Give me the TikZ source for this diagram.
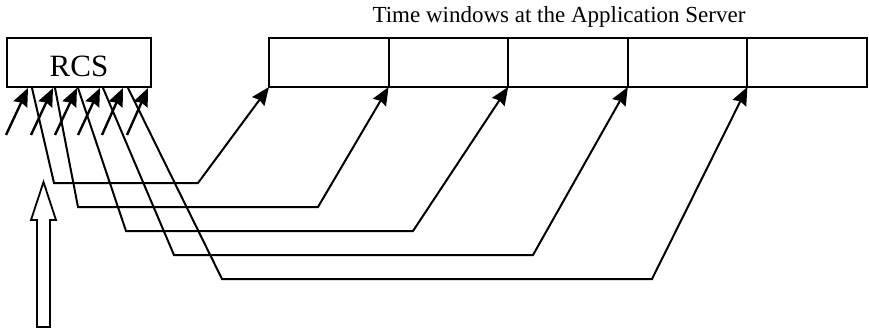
\documentclass[tikz,border=0pt]{standalone}
\usepackage{fontspec}
\setmainfont{Liberation Serif}
\usetikzlibrary{arrows.meta,calc}
\begin{document}
\begin{tikzpicture}[x=1pt,y=-1pt,
  frame/.style={draw,line width=2pt,inner sep=0pt,outer sep=0pt},
  slot/.style={frame,minimum width=119.6pt,minimum height=49pt,anchor=north west},
  headtip/.style={-{Stealth[length=18pt,width=15pt,inset=2pt]}},
  feed/.style={line width=2.4pt,headtip},
  route/.style={line width=2pt,line join=miter,headtip},
  hollow/.style={draw,line width=1.8pt,fill=white,line join=miter}]
\useasboundingbox (0,0) rectangle (869,331);

% Receiver box
\node[frame,minimum width=144pt,minimum height=49pt] (rcs) at (79,62.5) {};
\node[anchor=base,font=\fontsize{31}{31}\selectfont] (rcslabel) at (79,77) {RCS};

% Time windows at the application server
\node[slot] (w1) at (269,38) {};
\node[slot] (w2) at (w1.north east) {};
\node[slot] (w3) at (w2.north east) {};
\node[slot] (w4) at (w3.north east) {};
\node[slot] (w5) at (w4.north east) {};
\node[anchor=base,font=\fontsize{23}{23}\selectfont] (title) at (559,23)
  {Time windows at the Application Server};

% Incoming requests into the RCS
\foreach \i/\sx/\tx in {1/6/28,2/31/53,3/55/77,4/78/100,5/102/123,6/127/148}{
  \coordinate (in\i) at (\sx,135);
  \coordinate (hit\i) at (\tx,88);
  \draw[feed] (in\i) -- (hit\i);
}

% Routes from the RCS to the time windows
\foreach \i/\sx/\cx/\ex/\ly in {1/32/54/198/183,2/55/78/318/207,3/78/126/413/231,4/103/174/533/255,5/128/222/652/279}{
  \coordinate (out\i) at (\sx,88);
  \coordinate (bendA\i) at (\cx,\ly);
  \coordinate (bendB\i) at (\ex,\ly);
  \draw[route] (out\i) -- (bendA\i) -- (bendB\i) -- (w\i.south west);
}

% Hollow input arrow
\draw[hollow] (37,327) -- (37,220) -- (31,220) -- (43.5,182) -- (56,220) -- (50,220) -- (50,327) -- cycle;
\end{tikzpicture}
\end{document}
